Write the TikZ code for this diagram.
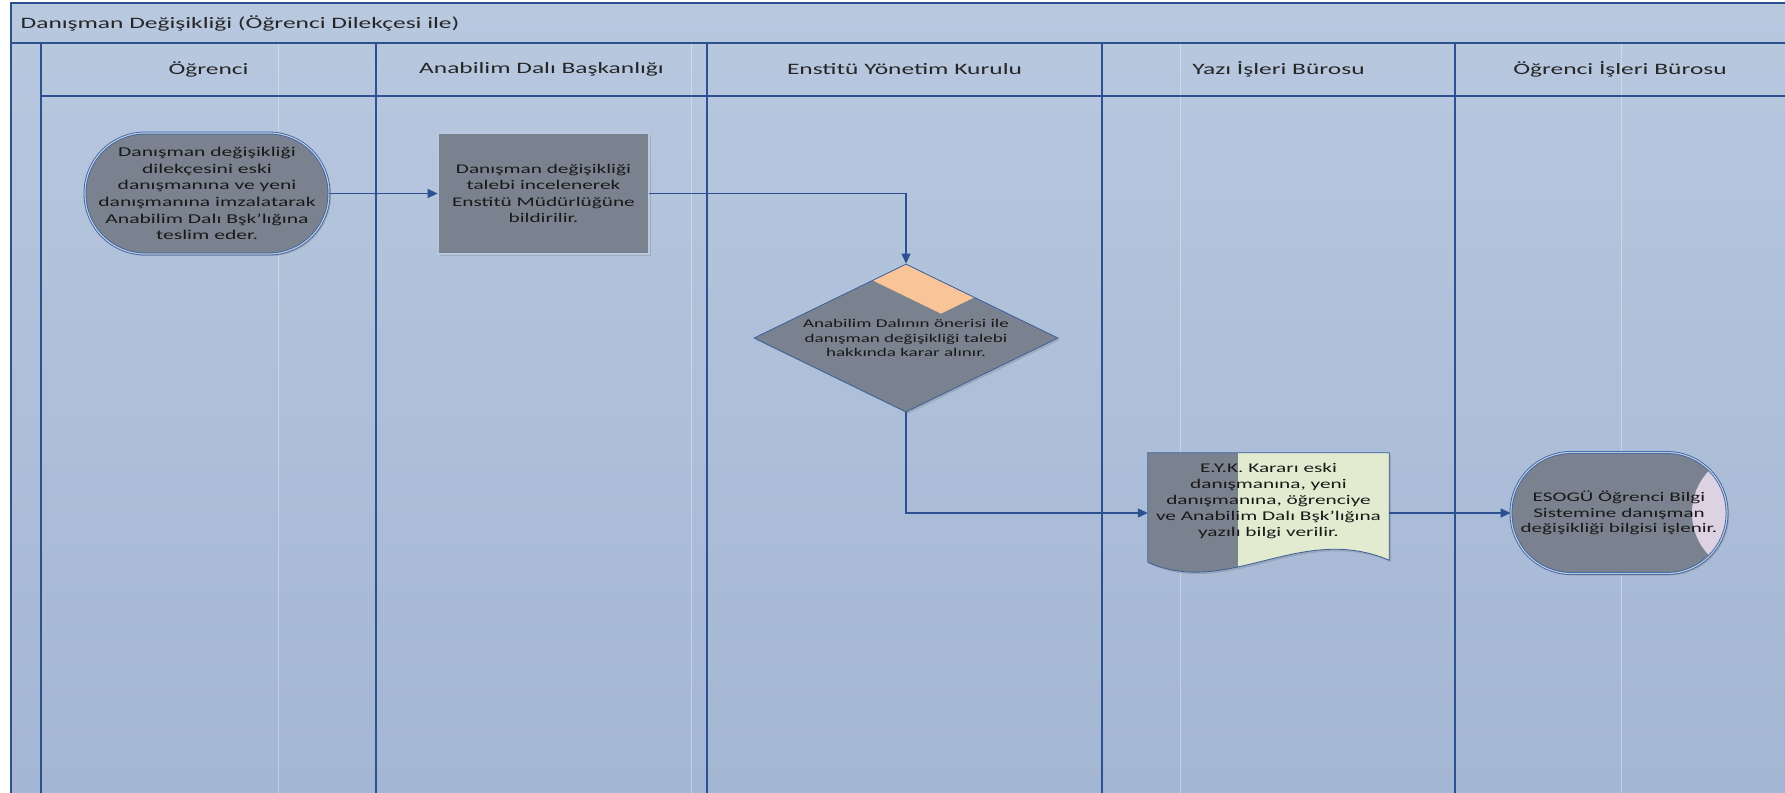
\documentclass[tikz,border=0pt]{standalone}
\usepackage{fontspec}
\setmainfont{Carlito}[FakeStretch=1.6]
\usetikzlibrary{arrows.meta,shapes.geometric,shadows,calc}

\definecolor{bgtop}{HTML}{B8C8DF}
\definecolor{bgbot}{HTML}{A3B6D3}
\definecolor{laneblue}{HTML}{2D5190}
\definecolor{edgeblue}{HTML}{3A5F9E}
\definecolor{boxgray}{HTML}{7A828F}
\definecolor{peach}{HTML}{F9C497}
\definecolor{paleg}{HTML}{E2EACF}
\definecolor{lilac}{HTML}{DCD2E2}

\begin{document}
\begin{tikzpicture}[x=1bp,y=-1bp,
    lane/.style={draw=laneblue,line width=1.5bp},
    pageline/.style={draw=white,opacity=0.35,line width=1bp},
    hdr/.style={inner sep=0pt,text=black!85,font=\fontsize{15.9bp}{19bp}\selectfont},
    boxbase/.style={fill=boxgray,draw=edgeblue,line width=0.8bp,
        drop shadow={shadow xshift=2bp,shadow yshift=-2bp,opacity=0.35}},
    dbl/.style={double=bgtop,double distance=1.2bp},
    txt/.style={align=center,inner sep=0pt,text=black!90,font=\fontsize{13.3bp}{16.4bp}\selectfont},
    terminal/.style={boxbase,dbl,rounded corners=60bp,minimum height=121bp,txt},
    process/.style={boxbase,dbl,minimum width=211bp,minimum height=121bp,txt},
    decision/.style={boxbase,diamond,minimum width=304bp,minimum height=148bp,inner sep=0pt},
    flow/.style={draw=laneblue,line width=1.3bp,-{Triangle[length=10bp,width=9bp]}}]
  \useasboundingbox (0,0) rectangle (1785,793);
  %% Pool and lanes
  \shade[top color=bgtop,bottom color=bgbot] (11,3) rectangle (1785,793);
  \foreach \x in {278,691,1180,1621}
    \draw[pageline] (\x,43) -- (\x,793);
  \draw[lane,line width=1.2bp] (1785,3) -- (11,3) -- (11,793);
  \draw[lane] (11,43) -- (1785,43);
  \draw[lane] (41,96) -- (1785,96);
  \foreach \x in {41,376,707,1102,1455}
    \draw[lane] (\x,43) -- (\x,793);
  %% Title and lane names
  \node[hdr,anchor=west] (baslik) at (20.5,23) {Danışman Değişikliği (Öğrenci Dilekçesi ile)};
  \node[hdr] (ogrenci) at (208.5,69) {Öğrenci};
  \node[hdr] (abd) at (541.5,69) {Anabilim Dalı Başkanlığı};
  \node[hdr] (eyk) at (904.5,69) {Enstitü Yönetim Kurulu};
  \node[hdr] (yib) at (1278.5,69) {Yazı İşleri Bürosu};
  \node[hdr] (oib) at (1620,69) {Öğrenci İşleri Bürosu};
  %% Steps
  \node[terminal,minimum width=244bp,font=\fontsize{13.5bp}{16.6bp}\selectfont] (dilekce) at (207,193.5)
    {Danışman değişikliği\\dilekçesini eski\\danışmanına ve yeni\\danışmanına imzalatarak\\Anabilim Dalı Bşk’lığına\\teslim eder.};
  \node[process] (talep) at (543.5,193.5)
    {Danışman değişikliği\\talebi incelenerek\\Enstitü Müdürlüğüne\\bildirilir.};
  \node[decision,path picture={
      \coordinate (pT) at (path picture bounding box.north);
      \coordinate (pE) at ($(pT)!0.45!(path picture bounding box.east)$);
      \coordinate (pW) at ($(pT)!0.22!(path picture bounding box.west)$);
      \fill[peach] (pT) -- (pE) -- ($(pE)+(pW)-(pT)$) -- (pW) -- cycle;}]
    (karar) at (906,338) {};
  \node[txt,font=\fontsize{11.9bp}{14.5bp}\selectfont] (karar-yazi) at (karar)
    {Anabilim Dalının önerisi ile\\danışman değişikliği talebi\\hakkında karar alınır.};
  \node[minimum width=241bp,minimum height=120bp,inner sep=0pt] (bilgi) at (1268.5,513) {};
  \path[boxbase,fill=paleg,path picture={
      \fill[boxgray] (path picture bounding box.north west)
        rectangle ([xshift=90bp]path picture bounding box.south west);}]
    (bilgi.north west) -- (bilgi.north east) -- ([yshift=13bp]bilgi.south east)
    .. controls +(-89bp,38bp) and +(80bp,-36bp) .. ([yshift=11bp]bilgi.south west) -- cycle;
  \node[txt,font=\fontsize{13.3bp}{16.2bp}\selectfont] (bilgi-yazi) at ([yshift=12bp]bilgi.center)
    {E.Y.K. Kararı eski\\danışmanına, yeni\\danışmanına, öğrenciye\\ve Anabilim Dalı Bşk’lığına\\yazılı bilgi verilir.};
  \node[terminal,minimum width=216bp,font=\fontsize{13.2bp}{15.8bp}\selectfont,path picture={
      \fill[lilac] ([xshift=-35bp]path picture bounding box.north east)
        rectangle (path picture bounding box.south east);}]
    (obs) at (1619,513)
    {ESOGÜ Öğrenci Bilgi\\Sistemine danışman\\değişikliği bilgisi işlenir.};
  %% Connectors
  \draw[flow] (dilekce) -- (talep);
  \draw[flow] (talep.east) -| (karar.north);
  \draw[flow] (karar.south) |- (bilgi.west);
  \draw[flow] (bilgi.east) -- (obs.west);
\end{tikzpicture}
\end{document}
